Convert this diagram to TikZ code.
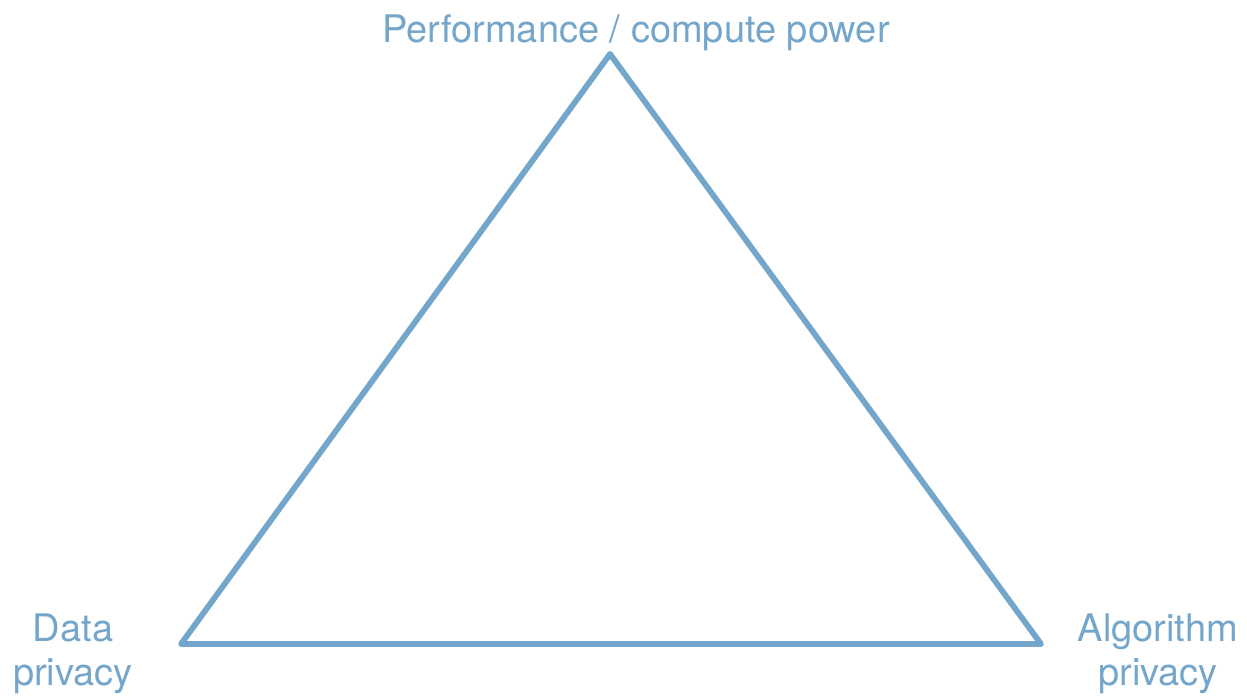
\documentclass[tikz,border=0pt]{standalone}
\usepackage{fontspec}
\setmainfont{TeX Gyre Heros}
\definecolor{edgeblue}{RGB}{116,166,203}
\begin{document}
\begin{tikzpicture}[x=0.5pt,y=-0.5pt,
  edge/.style={draw=edgeblue,line width=2.9pt,line join=round,line cap=round},
  corner/.style={text=edgeblue,font=\fontsize{19}{21.6}\selectfont,align=center,inner sep=0pt}]
  \useasboundingbox (0,0) rectangle (1247,697);
  % vertices of the trade-off triangle
  \coordinate (top) at (610,54);
  \coordinate (left) at (181,644);
  \coordinate (right) at (1041,644);
  \draw[edge] (top) -- (right) -- (left) -- cycle;
  % corner labels (base anchor sits on the last line)
  \node[corner,anchor=base] (perf) at (636,42) {Performance / compute power};
  \node[corner,anchor=base] (data) at (73,685) {Data\\privacy};
  \node[corner,anchor=base] (algo) at (1158,685) {Algorithm\\privacy};
\end{tikzpicture}
\end{document}
